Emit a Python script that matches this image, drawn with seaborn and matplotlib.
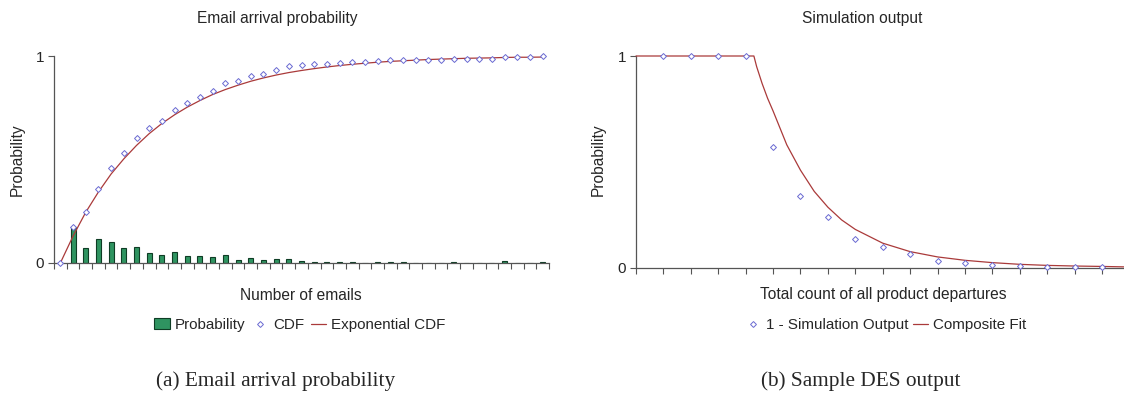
import numpy as np
import pandas as pd
import seaborn as sns
import matplotlib
matplotlib.use("Agg")
import matplotlib.pyplot as plt
from matplotlib.patches import Patch
from matplotlib.lines import Line2D

# ---- data: (a) email arrival probability
n_emails = list(range(39))
prob = [0, 0.172, 0.072, 0.116, 0.101, 0.071, 0.079, 0.048, 0.037, 0.053,
        0.032, 0.034, 0.029, 0.039, 0.013, 0.024, 0.013, 0.019, 0.020, 0.008,
        0.003, 0.003, 0.006, 0.003, 0, 0.003, 0.003, 0.003, 0, 0,
        0, 0.003, 0, 0, 0, 0.012, 0, 0, 0.003]
cdf = [0, 0.172, 0.248, 0.359, 0.460, 0.529, 0.606, 0.650, 0.688, 0.741,
       0.772, 0.802, 0.831, 0.870, 0.879, 0.904, 0.915, 0.931, 0.950, 0.955,
       0.961, 0.963, 0.968, 0.971, 0.973, 0.977, 0.979, 0.982, 0.982, 0.982,
       0.982, 0.986, 0.986, 0.986, 0.986, 0.997, 0.997, 0.997, 1.0]
exp_cdf = [0, 0.13, 0.245, 0.343, 0.43, 0.503, 0.568, 0.625, 0.674, 0.716,
           0.753, 0.785, 0.814, 0.838, 0.859, 0.878, 0.894, 0.908, 0.92, 0.93,
           0.939, 0.947, 0.954, 0.96, 0.965, 0.97, 0.974, 0.977, 0.98, 0.983,
           0.985, 0.987, 0.989, 0.99, 0.991, 0.993, 0.994, 0.994, 0.995]

# ---- data: (b) simulation output
sim_x = list(range(1, 18))
sim_y = [1, 1, 1, 1, 0.569, 0.336, 0.240, 0.137, 0.098, 0.065,
         0.033, 0.022, 0.014, 0.005, 0.002, 0.002, 0.001]
fit_x = [0, 4.3, 4.4, 4.6, 4.8, 5, 5.5, 6, 6.5, 7, 7.5, 8, 9, 10, 11, 12, 13, 14, 15, 16, 17, 17.8]
fit_y = [1, 1, 0.95, 0.87, 0.80, 0.74, 0.58, 0.46, 0.36, 0.285, 0.225, 0.18, 0.115,
         0.075, 0.05, 0.034, 0.023, 0.015, 0.01, 0.007, 0.005, 0.003]

sns.set_style("white")
plt.rcParams['font.family'] = ['Liberation Sans', 'DejaVu Sans']

bar_col = '#2f9461'
bar_edge = '#0f3d25'
dia_col = '#6a6ad2'
line_col = '#aa3a3a'
axis_col = '#555555'
fs = 11.2

fig = plt.figure(figsize=(11.24, 4.03), dpi=100)
W, H = 1124, 403
ax1 = fig.add_axes([54 / W, 1 - 263 / H, 495 / W, 207 / H])
ax2 = fig.add_axes([636 / W, 1 - 267.5 / H, 488 / W, 211.5 / H])

# ---- panel (a)
sns.barplot(x=n_emails, y=prob, color=bar_col, saturation=1, width=0.4,
            edgecolor=bar_edge, linewidth=0.8, ax=ax1, zorder=2)
sns.lineplot(x=n_emails, y=exp_cdf, color=line_col, linewidth=0.9, ax=ax1, zorder=3)
sns.scatterplot(x=n_emails, y=cdf, marker='D', s=9, facecolor='white',
                edgecolor=dia_col, linewidth=0.7, ax=ax1, zorder=4, clip_on=False)
ax1.set_xlim(-0.5, 38.5)
ax1.set_xticks(np.arange(-0.5, 39, 1))

# ---- panel (b)
sns.lineplot(x=fit_x, y=fit_y, color=line_col, linewidth=0.9, ax=ax2, zorder=3,
             clip_on=False)
sns.scatterplot(x=sim_x, y=sim_y, marker='D', s=9, facecolor='white',
                edgecolor=dia_col, linewidth=0.7, ax=ax2, zorder=4, clip_on=False)
ax2.set_xlim(0, 17.8)
ax2.set_xticks(np.arange(0, 18, 1))

for ax in (ax1, ax2):
    ax.set_ylim(0, 1)
    ax.set_yticks([0, 1])
    ax.set_yticklabels(['0', '1'], fontsize=11)
    ax.set_xticklabels([])
    ax.set_xlabel('')
    ax.set_ylabel('')
    ax.tick_params(axis='both', direction='out', length=4, width=0.8,
                   color=axis_col, pad=3, left=True, bottom=True)
    for s in ('top', 'right'):
        ax.spines[s].set_visible(False)
    for s in ('left', 'bottom'):
        ax.spines[s].set_color(axis_col)
        ax.spines[s].set_linewidth(0.9)
    ax.grid(False)

# titles, axis labels
fig.text(277 / W, 1 - 18 / H, 'Email arrival probability', ha='center', va='center', fontsize=fs)
fig.text(862 / W, 1 - 18 / H, 'Simulation output', ha='center', va='center', fontsize=fs)
fig.text(17 / W, 1 - 160 / H, 'Probability', rotation=90, ha='center', va='center', fontsize=fs)
fig.text(598 / W, 1 - 160 / H, 'Probability', rotation=90, ha='center', va='center', fontsize=fs)
fig.text(301 / W, 1 - 295 / H, 'Number of emails', ha='center', va='center', fontsize=fs)
fig.text(883 / W, 1 - 295 / H, 'Total count of all product departures', ha='center', va='center', fontsize=fs)

# legends
h_bar = Patch(facecolor=bar_col, edgecolor=bar_edge, linewidth=0.8)
h_dia = Line2D([], [], marker='D', linestyle='none', markersize=3,
               markerfacecolor='white', markeredgecolor=dia_col, markeredgewidth=0.7)
h_line = Line2D([], [], color=line_col, linewidth=0.9)
fig.legend([h_bar, h_dia, h_line], ['Probability', 'CDF', 'Exponential CDF'],
           loc='center', bbox_to_anchor=(300 / W, 1 - 325 / H), ncol=3, frameon=False,
           fontsize=10.9, handlelength=1.0, handletextpad=0.35, columnspacing=0.45,
           borderpad=0)
fig.legend([h_dia, h_line], ['1 - Simulation Output', 'Composite Fit'],
           loc='center', bbox_to_anchor=(886 / W, 1 - 325 / H), ncol=2, frameon=False,
           fontsize=10.9, handlelength=1.0, handletextpad=0.35, columnspacing=0.3,
           borderpad=0)

# captions
fig.text(276 / W, 1 - 381 / H, '(a) Email arrival probability', ha='center', va='center',
         fontsize=15.3, family=['Liberation Serif', 'DejaVu Serif'])
fig.text(861 / W, 1 - 381 / H, '(b) Sample DES output', ha='center', va='center',
         fontsize=15.3, family=['Liberation Serif', 'DejaVu Serif'])

fig.savefig('out.png', dpi=100)
